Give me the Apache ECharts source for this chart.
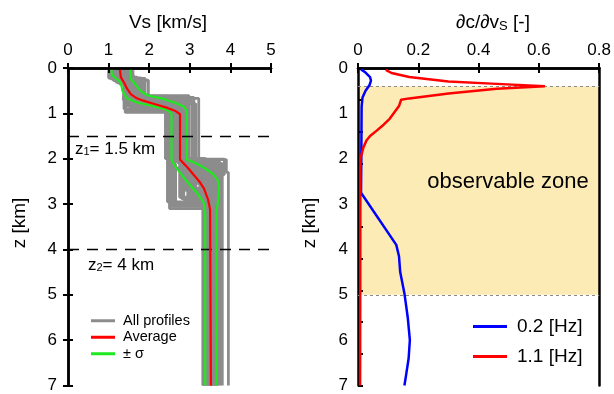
<!DOCTYPE html>
<html><head><meta charset="utf-8">
<script src="https://cdn.jsdelivr.net/npm/echarts@6/dist/echarts.min.js"></script>
<style>html,body{margin:0;padding:0;background:#fff}#c{width:614px;height:394px}</style>
</head><body><div id="c"></div>
<script>
const FONT = '"Liberation Sans", Arial, Helvetica, sans-serif';

// ---- Left panel: Vs profiles (layered models) ----
const vsTicks = [0, 1, 2, 3, 4, 5];
const depthTicks = [0, 1, 2, 3, 4, 5, 6, 7];
const modelTop = 0.05, modelBottom = 7;
const v1 = [1.00,1.25,1.10,1.38,1.15,1.30,1.20,1.45,1.25,1.05,1.35,1.28,1.50,1.12,1.33,1.22,1.40,1.55,1.18,1.30,1.48,1.27,1.58,1.36,1.42,1.15,1.32,1.60,1.24,1.52];
const h1 = [0.22,0.30,0.18,0.35,0.25,0.28,0.20,0.32,0.26,0.24,0.30,0.36,0.22,0.28,0.19,0.33,0.27,0.25,0.31,0.21,0.29,0.34,0.23,0.26,0.30,0.17,0.28,0.32,0.24,0.27];
const v2 = [1.40,1.55,1.45,1.62,1.38,1.50,1.70,1.48,1.58,1.42,1.65,1.52,1.80,1.46,1.60,1.55,1.36,1.75,1.50,1.44,1.68,1.53,1.90,1.47,1.57,1.62,1.41,1.85,1.51,1.98];
const h2 = [0.75,0.66,0.82,0.70,0.90,0.78,0.62,0.80,0.72,0.95,0.68,0.85,0.64,0.79,0.74,0.87,0.70,0.61,0.81,0.76,0.92,0.67,0.74,0.84,0.71,0.78,0.98,0.65,0.82,0.73];
const v3 = [2.40,2.55,2.70,2.85,2.62,2.95,2.48,2.78,3.05,2.66,2.90,2.52,2.74,3.15,2.60,2.82,2.45,2.98,2.70,2.88,2.58,3.22,2.76,2.64,2.93,2.50,2.80,3.10,2.68,2.84];
const h3 = [2.00,2.05,2.02,2.10,2.00,2.08,2.03,2.15,2.01,2.06,2.00,2.12,2.04,2.02,2.20,2.07,2.00,2.05,2.09,2.03,2.00,2.11,2.04,2.06,2.02,2.18,2.00,2.08,2.05,2.03];
const v4 = [2.45,2.90,3.20,3.50,2.75,3.60,2.55,3.30,3.85,3.00,3.40,2.65,3.10,3.90,2.85,3.45,2.50,3.70,3.05,3.55,2.80,3.80,3.25,2.95,3.65,2.60,3.35,3.75,3.15,3.50];
const h4 = [2.95,2.70,2.55,2.40,2.85,2.45,3.05,2.60,2.35,2.80,2.50,3.00,2.65,2.30,2.90,2.55,3.10,2.40,2.75,2.50,2.88,2.35,2.62,2.82,2.45,3.00,2.58,2.38,2.70,2.52];
const v5 = [3.35,3.45,3.55,3.60,3.40,3.70,3.32,3.50,3.80,3.48,3.58,3.38,3.52,3.95,3.42,3.62,3.34,3.66,3.50,3.56,3.44,3.75,3.54,3.46,3.64,3.36,3.52,3.68,3.49,3.58];

// [Vs, z]
const avgProfile = [[1.28,0.04],[1.30,0.20],[1.38,0.32],[1.45,0.45],[1.55,0.58],[1.68,0.66],[1.85,0.72],[2.15,0.80],[2.45,0.88],[2.65,0.95],[2.76,1.02],[2.76,2.02],[2.95,2.20],[3.10,2.36],[3.25,2.52],[3.35,2.66],[3.45,2.90],[3.50,3.12],[3.52,7.0]];
const minusSigma = [[1.07,0.04],[1.08,0.15],[1.30,0.32],[1.34,0.50],[1.44,0.66],[1.70,0.76],[2.10,0.84],[2.43,0.92],[2.55,1.00],[2.55,2.02],[2.64,2.17],[2.92,2.49],[3.20,2.78],[3.35,2.98],[3.38,3.20],[3.38,7.0]];
const plusSigma = [[1.53,0.04],[1.55,0.25],[1.68,0.38],[1.78,0.50],[1.95,0.60],[2.30,0.67],[2.62,0.76],[2.85,0.85],[2.93,0.95],[2.93,2.02],[3.10,2.08],[3.30,2.17],[3.55,2.32],[3.68,2.45],[3.72,2.64],[3.70,2.90],[3.66,3.15],[3.66,7.0]];
const interfaceDepths = [1.5, 4];

// ---- Right panel: sensitivity kernels [dc/dVs, z] ----
const sensTicks = [0, 0.2, 0.4, 0.6, 0.8];
const sens02Hz = [[0.010,0.03],[0.025,0.10],[0.040,0.20],[0.043,0.28],[0.038,0.38],[0.025,0.50],[0.015,0.65],[0.012,0.85],[0.011,2.0],[0.010,2.75],[0.127,3.9],[0.136,4.15],[0.140,4.5],[0.154,4.97],[0.165,5.5],[0.172,6.0],[0.168,6.4],[0.160,6.75],[0.154,7.0]];
const sens11Hz = [[0.092,0.04],[0.111,0.11],[0.17,0.20],[0.30,0.30],[0.46,0.35],[0.62,0.40],[0.46,0.46],[0.30,0.56],[0.17,0.67],[0.143,0.70],[0.136,0.84],[0.116,1.02],[0.105,1.12],[0.085,1.25],[0.062,1.38],[0.040,1.50],[0.028,1.60],[0.018,1.75],[0.012,1.90],[0.008,2.0],[0.007,7.0]];
const observableZone = [0.4, 5];

const GRAY = '#8c8c8c', RED = '#ff0000', GREEN = '#1ee81e', BLUE = '#0000ff';

const profileSeries = v1.map((_, i) => ({
  type: 'line', name: 'All profiles', xAxisIndex: 0, yAxisIndex: 0, symbol: 'none',
  color: GRAY, lineStyle: { width: 2.8, color: GRAY }, z: 1, silent: true,
  data: [[v1[i], modelTop],[v1[i], h1[i]],[v2[i], h1[i]],[v2[i], h2[i]],[v3[i], h2[i]],[v3[i], h3[i]],[v4[i], h3[i]],[v4[i], h4[i]],[v5[i], h4[i]],[v5[i], modelBottom]]
}));

const axLine = { show: true, lineStyle: { color: '#000', width: 2.5 } };
const tick = { show: true, inside: true, length: 5, lineStyle: { color: '#000', width: 2 } };
const lbl = { fontFamily: FONT, fontSize: 17, color: '#000' };

const option = {
  animation: false,
  grid: [
    { left: 68, top: 68, width: 203, height: 324 },
    { left: 358, top: 68, width: 246, height: 324 }
  ],
  xAxis: [
    { gridIndex: 0, z: 3, type: 'value', position: 'top', min: vsTicks[0], max: vsTicks[vsTicks.length-1], interval: 1,
      axisLine: axLine, axisTick: tick, axisLabel: Object.assign({ margin: 9 }, lbl), splitLine: { show: false } },
    { gridIndex: 0, z: 3, type: 'value', position: 'bottom', min: vsTicks[0], max: vsTicks[vsTicks.length-1], interval: 1,
      axisLine: axLine, axisTick: tick, axisLabel: { show: false }, splitLine: { show: false } },
    { gridIndex: 1, z: 3, type: 'value', position: 'top', min: sensTicks[0], max: sensTicks[sensTicks.length-1], interval: 0.2,
      axisLine: axLine, axisTick: tick, axisLabel: Object.assign({ margin: 9 }, lbl), splitLine: { show: false } },
    { gridIndex: 1, z: 3, type: 'value', position: 'bottom', min: sensTicks[0], max: sensTicks[sensTicks.length-1], interval: 0.2,
      axisLine: axLine, axisTick: tick, axisLabel: { show: false }, splitLine: { show: false } }
  ],
  yAxis: [
    { gridIndex: 0, z: 3, type: 'value', position: 'left', inverse: true, min: depthTicks[0], max: depthTicks[depthTicks.length-1], interval: 1,
      axisLine: axLine, axisTick: tick, axisLabel: Object.assign({ margin: 11 }, lbl), splitLine: { show: false } },
    { gridIndex: 0, z: 3, type: 'value', position: 'right', inverse: true, min: 0, max: 7, interval: 1,
      axisLine: axLine, axisTick: tick, axisLabel: { show: false }, splitLine: { show: false } },
    { gridIndex: 1, z: 3, type: 'value', position: 'left', inverse: true, min: depthTicks[0], max: depthTicks[depthTicks.length-1], interval: 1,
      axisLine: axLine, axisTick: { show: false }, axisLabel: Object.assign({ margin: 10 }, lbl), splitLine: { show: false } },
    { gridIndex: 1, z: 3, type: 'value', position: 'left', inverse: true, min: 0, max: 7, interval: 0.7,
      axisLine: { show: false }, axisTick: tick, axisLabel: { show: false }, splitLine: { show: false } },
    { gridIndex: 1, z: 3, type: 'value', position: 'right', inverse: true, min: 0, max: 7, interval: 1,
      axisLine: axLine, axisTick: { show: false }, axisLabel: { show: false }, splitLine: { show: false } }
  ],
  legend: [
    { data: ['All profiles', 'Average', '± σ'], orient: 'vertical', left: 91, top: 312.5, padding: 0,
      itemWidth: 24, itemHeight: 3, icon: 'rect', itemGap: 0, selectedMode: false,
      textStyle: { fontFamily: FONT, fontSize: 14.5, color: '#000', lineHeight: 16.5, padding: [0,0,0,3] } },
    { data: ['0.2 [Hz]', '1.1 [Hz]'], orient: 'vertical', left: 473, top: 316.5, padding: 0,
      itemWidth: 34, itemHeight: 3, icon: 'rect', itemGap: 10, selectedMode: false,
      textStyle: { fontFamily: FONT, fontSize: 19, color: '#000', lineHeight: 20, padding: [0,0,0,5] } }
  ],
  series: [
    ...profileSeries,
    { type: 'line', name: 'dashed', xAxisIndex: 0, yAxisIndex: 0, data: [], silent: true, z: 2,
      markLine: { silent: true, symbol: 'none', label: { show: false },
        lineStyle: { color: '#000', width: 1.3, type: [11, 8] },
        data: interfaceDepths.map(d => ({ yAxis: d })) } },
    { type: 'line', name: '± σ', xAxisIndex: 0, yAxisIndex: 0, symbol: 'none', color: GREEN,
      lineStyle: { width: 2.2, color: GREEN }, data: minusSigma, z: 4 },
    { type: 'line', name: '± σ', xAxisIndex: 0, yAxisIndex: 0, symbol: 'none', color: GREEN,
      lineStyle: { width: 2.2, color: GREEN }, data: plusSigma, z: 4 },
    { type: 'line', name: 'Average', xAxisIndex: 0, yAxisIndex: 0, symbol: 'none', color: RED,
      lineStyle: { width: 2.2, color: RED }, data: avgProfile, z: 5 },
    { type: 'line', name: 'zone', xAxisIndex: 2, yAxisIndex: 2, data: [], silent: true, z: 1,
      markArea: { silent: true, itemStyle: { color: '#fdebb6' }, data: [[{ yAxis: observableZone[0] }, { yAxis: observableZone[1] }]] },
      markLine: { silent: true, symbol: 'none', label: { show: false },
        lineStyle: { color: '#8a8a8a', width: 1, type: [3, 3] },
        data: observableZone.map(d => ({ yAxis: d })) } },
    { type: 'line', name: '0.2 [Hz]', xAxisIndex: 2, yAxisIndex: 2, symbol: 'none', color: BLUE,
      lineStyle: { width: 2.5, color: BLUE }, data: sens02Hz, z: 5 },
    { type: 'line', name: '1.1 [Hz]', xAxisIndex: 2, yAxisIndex: 2, symbol: 'none', color: RED,
      lineStyle: { width: 2.5, color: RED }, data: sens11Hz, z: 6 }
  ],
  graphic: [
    { type: 'text', x: 168, y: 23, style: { text: 'Vs [km/s]', font: '19px ' + FONT, fill: '#000', align: 'center', verticalAlign: 'middle' } },
    { type: 'text', x: 493, y: 23, style: { text: '∂c/∂v{s|S} [-]', font: '19px ' + FONT, fill: '#000', align: 'center', verticalAlign: 'middle',
        rich: { s: { fontSize: 13, fontFamily: FONT, verticalAlign: 'bottom', fill: '#000' } } } },
    { type: 'text', x: 20, y: 223, rotation: Math.PI / 2, style: { text: 'z [km]', font: '19px ' + FONT, fill: '#000', align: 'center', verticalAlign: 'middle' } },
    { type: 'text', x: 310, y: 223, rotation: Math.PI / 2, style: { text: 'z [km]', font: '19px ' + FONT, fill: '#000', align: 'center', verticalAlign: 'middle' } },
    { type: 'text', x: 75, y: 149, z: 10, style: { text: 'z{s|1}= 1.5 km', font: '17px ' + FONT, fill: '#000', align: 'left', verticalAlign: 'middle',
        rich: { s: { fontSize: 11, fontFamily: FONT, verticalAlign: 'bottom', fill: '#000' } } } },
    { type: 'text', x: 88, y: 265, z: 10, style: { text: 'z{s|2}= 4 km', font: '17px ' + FONT, fill: '#000', align: 'left', verticalAlign: 'middle',
        rich: { s: { fontSize: 11, fontFamily: FONT, verticalAlign: 'bottom', fill: '#000' } } } },
    { type: 'text', x: 508, y: 182, z: 10, style: { text: 'observable zone', font: '22px ' + FONT, fill: '#000', align: 'center', verticalAlign: 'middle' } }
  ]
};

const chart = echarts.init(document.getElementById('c'), null, { renderer: 'canvas' });
chart.setOption(option);
</script>
</body></html>
